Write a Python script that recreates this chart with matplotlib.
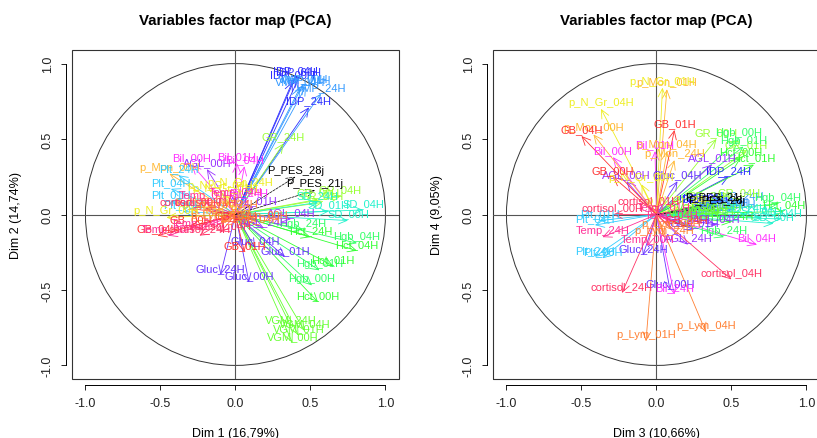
import matplotlib
matplotlib.use("Agg")
import matplotlib.pyplot as plt
from matplotlib.patches import Circle, Rectangle

plt.rcParams['font.family'] = ['Liberation Sans', 'DejaVu Sans']

# variable names and coordinates (Dim 1..4)
var_names = [
    'IDP_00H', 'IDP_01H', 'IDP_04H', 'IDP_24H',
    'VMP_00H', 'VMP_01H', 'VMP_04H', 'VMP_24H',
    'GR_00H', 'GR_01H', 'GR_04H', 'GR_24H',
    'Hgb_00H', 'Hgb_01H', 'Hgb_04H', 'Hgb_24H',
    'Hct_00H', 'Hct_01H', 'Hct_04H', 'Hct_24H',
    'VGM_00H', 'VGM_01H', 'VGM_04H', 'VGM_24H',
    'SD_00H', 'SD_01H', 'SD_04H', 'SD_24H',
    'Gluc_00H', 'Gluc_01H', 'Gluc_04H', 'Gluc_24H',
    'AGL_00H', 'AGL_01H', 'AGL_04H', 'AGL_24H',
    'Bil_00H', 'Bil_01H', 'Bil_04H', 'Bil_24H',
    'p_Mon_00H', 'p_Mon_01H', 'p_Mon_04H', 'p_Mon_24H',
    'Plt_00H', 'Plt_01H', 'Plt_04H', 'Plt_24H',
    'p_N_Gr_00H', 'p_N_Gr_01H', 'p_N_Gr_04H', 'p_N_Gr_24H',
    'GB_00H', 'GB_01H', 'GB_04H', 'GB_24H',
    'Temp_00H', 'Temp_01H', 'Temp_04H', 'Temp_24H',
    'cortisol_00H', 'cortisol_01H', 'cortisol_04H', 'cortisol_24H',
    'p_Lym_00H', 'p_Lym_01H', 'p_Lym_04H', 'p_Lym_24H',
]
dim1 = [0.38, 0.42, 0.40, 0.49,
        0.45, 0.47, 0.43, 0.57,
        0.55, 0.58, 0.70, 0.32,
        0.51, 0.56, 0.81, 0.45,
        0.55, 0.65, 0.81, 0.50,
        0.38, 0.42, 0.46, 0.37,
        0.75, 0.62, 0.85, 0.55,
        0.09, 0.33, 0.13, -0.10,
        -0.19, 0.12, 0.37, 0.19,
        -0.29, 0.01, 0.06, 0.09,
        -0.44, -0.20, -0.15, -0.10,
        -0.35, -0.43, -0.43, -0.38,
        -0.46, -0.07, -0.10, 0.03,
        -0.30, 0.06, -0.52, 0.00,
        -0.45, -0.20, 0.00, -0.25,
        -0.30, -0.20, -0.10, -0.24,
        0.15, -0.10, 0.10, -0.05]
dim2 = [0.88, 0.90, 0.91, 0.71,
        0.86, 0.85, 0.84, 0.80,
        0.10, 0.08, 0.12, 0.47,
        -0.47, -0.37, -0.19, -0.10,
        -0.58, -0.34, -0.24, -0.15,
        -0.85, -0.80, -0.77, -0.74,
        -0.04, 0.02, 0.03, 0.08,
        -0.45, -0.28, -0.22, -0.40,
        0.30, 0.05, -0.03, -0.09,
        0.33, 0.34, 0.32, 0.10,
        0.27, 0.05, 0.02, -0.02,
        0.02, 0.09, 0.17, 0.26,
        -0.02, 0.13, 0.15, 0.17,
        -0.08, -0.25, -0.14, -0.05,
        -0.14, 0.08, 0.10, -0.10,
        0.04, 0.04, -0.12, -0.14,
        -0.05, -0.05, -0.08, 0.02]
dim3 = [0.30, 0.33, 0.36, 0.48,
        0.45, 0.50, 0.42, 0.55,
        0.40, 0.60, 0.55, 0.35,
        0.55, 0.58, 0.81, 0.45,
        0.56, 0.65, 0.85, 0.50,
        0.30, 0.35, 0.40, 0.25,
        0.78, 0.70, 0.83, 0.60,
        0.09, 0.25, 0.14, -0.09,
        -0.20, 0.37, 0.40, 0.21,
        -0.29, -0.01, 0.67, 0.12,
        -0.42, 0.07, 0.07, 0.12,
        -0.36, -0.38, -0.41, -0.41,
        -0.10, 0.04, -0.37, 0.15,
        -0.29, 0.12, -0.50, 0.20,
        -0.06, 0.05, 0.10, -0.36,
        -0.29, -0.05, 0.50, -0.23,
        0.10, -0.07, 0.33, 0.05]
dim4 = [0.06, 0.07, 0.06, 0.25,
        0.04, 0.03, 0.02, 0.08,
        0.50, 0.42, 0.10, 0.08,
        0.50, 0.45, 0.07, -0.15,
        0.37, 0.33, 0.02, -0.05,
        0.00, -0.02, 0.01, -0.03,
        -0.06, -0.02, -0.03, 0.00,
        -0.50, -0.10, 0.22, -0.27,
        0.22, 0.33, -0.07, -0.20,
        0.38, 0.42, -0.20, -0.53,
        0.53, 0.83, 0.42, 0.36,
        -0.29, -0.04, -0.07, -0.28,
        0.20, 0.84, 0.70, 0.05,
        0.25, 0.56, 0.52, -0.08,
        -0.21, 0.00, -0.05, -0.15,
        0.00, 0.05, -0.43, -0.52,
        -0.10, -0.84, -0.78, -0.15]

# supplementary variables (dashed, black)
sup_names = ['P_PES_21j', 'P_PES_28j']
sup_dim1 = [0.53, 0.40]
sup_dim2 = [0.16, 0.25]
sup_dim3 = [0.38, 0.40]
sup_dim4 = [0.07, 0.05]

group_colors = {
    'IDP': '#2E2EFF', 'VMP': '#3399FF', 'GR': '#99FF33', 'Hgb': '#33FF66',
    'Hct': '#33FF33', 'VGM': '#66FF33', 'SD': '#22F2CC', 'Gluc': '#6633FF',
    'AGL': '#9933FF', 'Bil': '#FF33FF', 'p_Mon': '#FFB833', 'Plt': '#33CCFF',
    'p_N_Gr': '#EEEE22', 'GB': '#FF3333', 'Temp': '#FF3399',
    'cortisol': '#FF3366', 'p_Lym': '#FF8033',
}


def color_of(name):
    return group_colors[name.rsplit('_', 1)[0]]


def draw_arrow(ax, x, y, color, ls='-', lw=0.6):
    ax.annotate('', xy=(x, y), xytext=(0, 0),
                arrowprops=dict(arrowstyle='->,head_length=0.6,head_width=0.28',
                                color=color, lw=lw, linestyle=ls,
                                shrinkA=0, shrinkB=0))


def factor_map(ax, xs, ys, sxs, sys_, xlabel, ylabel):
    ax.set_xlim(-1.09, 1.09)
    ax.set_ylim(-1.09, 1.09)
    ax.axhline(0, color='#555555', lw=0.8)
    ax.axvline(0, color='#555555', lw=0.8)
    ax.add_patch(Circle((0, 0), 1, fill=False, color='#333333', lw=0.7))

    for name, x, y in zip(var_names, xs, ys):
        draw_arrow(ax, x, y, color_of(name))
    for name, x, y in zip(sup_names, sxs, sys_):
        draw_arrow(ax, x, y, 'black', ls='--', lw=0.5)
    for name, x, y in zip(var_names, xs, ys):
        ax.annotate(name, xy=(x, y), xytext=(0, 1.5), textcoords='offset points',
                    ha='center', va='bottom', fontsize=8, color=color_of(name),
                    annotation_clip=True, clip_on=True)
    for name, x, y in zip(sup_names, sxs, sys_):
        ax.annotate(name, xy=(x, y), xytext=(0, 1.5), textcoords='offset points',
                    ha='center', va='bottom', fontsize=8, color='black')

    # R style: axes detached from the box
    for side in ['top', 'right']:
        ax.spines[side].set_visible(False)
    for side in ['left', 'bottom']:
        ax.spines[side].set_position(('outward', 4.5))
        ax.spines[side].set_linewidth(0.7)
    ax.spines['left'].set_bounds(-1, 1)
    ax.spines['bottom'].set_bounds(-1, 1)
    ax.add_patch(Rectangle((0, 0), 1, 1, transform=ax.transAxes, fill=False,
                           lw=0.8, color='#333333', clip_on=False))
    ticks = [-1.0, -0.5, 0.0, 0.5, 1.0]
    ax.set_xticks(ticks)
    ax.set_yticks(ticks)
    ax.set_xticklabels([f'{t:.1f}' for t in ticks])
    ax.set_yticklabels([f'{t:.1f}' for t in ticks], rotation=90, va='center')
    ax.tick_params(direction='out', length=3.6, width=0.7, labelsize=9,
                   pad=5, colors='#222222')
    ax.set_xlabel(xlabel, fontsize=9, labelpad=12.5)
    ax.set_ylabel(ylabel, fontsize=9, labelpad=14)


fig = plt.figure(figsize=(8.17, 4.39), dpi=100)
ax1 = fig.add_axes([0.0881, 0.1344, 0.4002, 0.7494])
ax2 = fig.add_axes([0.6034, 0.1344, 0.4002, 0.7494])

factor_map(ax1, dim1, dim2, sup_dim1, sup_dim2, 'Dim 1 (16,79%)', 'Dim 2 (14,74%)')
factor_map(ax2, dim3, dim4, sup_dim3, sup_dim4, 'Dim 3 (10,66%)', 'Dim 4 (9,05%)')

for ax in (ax1, ax2):
    pos = ax.get_position()
    fig.text(pos.x0 + pos.width / 2, 1 - 21 / 439, 'Variables factor map (PCA)',
             ha='center', va='center', fontsize=10.8, fontweight='bold')

fig.savefig('out.png', dpi=100)
